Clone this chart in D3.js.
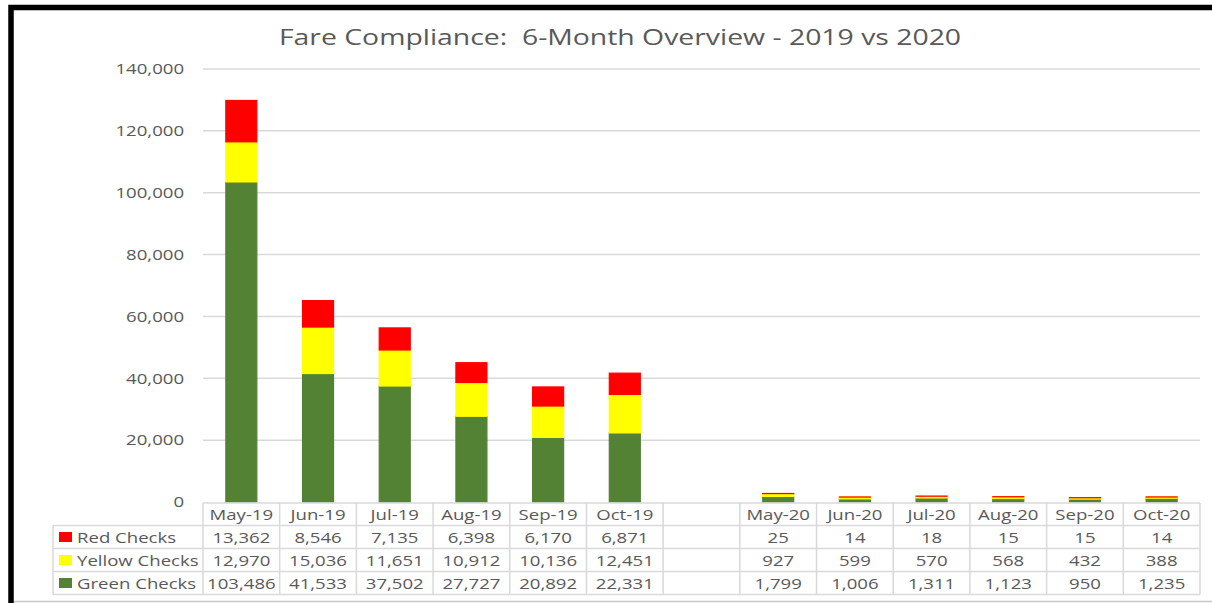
<!DOCTYPE html>
<html>
<head>
<meta charset="utf-8">
<script src="https://cdn.jsdelivr.net/npm/d3@7"></script>
<style>
  body { margin: 0; background: #fff; }
  svg { display: block; font-family: "Open Sans", sans-serif; }
</style>
</head>
<body>
<div id="chart"></div>
<script>
// data (blank column separates the two years)
var months = ['May-19', 'Jun-19', 'Jul-19', 'Aug-19', 'Sep-19', 'Oct-19', '',
  'May-20', 'Jun-20', 'Jul-20', 'Aug-20', 'Sep-20', 'Oct-20'];
var redChecks = [13362, 8546, 7135, 6398, 6170, 6871, null, 25, 14, 18, 15, 15, 14];
var yellowChecks = [12970, 15036, 11651, 10912, 10136, 12451, null, 927, 599, 570, 568, 432, 388];
var greenChecks = [103486, 41533, 37502, 27727, 20892, 22331, null, 1799, 1006, 1311, 1123, 950, 1235];
var yTicks = [0, 20000, 40000, 60000, 80000, 100000, 120000, 140000];

(function() {
  var series = [
    { key: 'red', name: 'Red Checks', color: '#ff0000', values: redChecks },
    { key: 'yellow', name: 'Yellow Checks', color: '#ffff00', values: yellowChecks },
    { key: 'green', name: 'Green Checks', color: '#548235', values: greenChecks }
  ];

  var width = 1212, height = 603;
  var textColor = '#595959', lineColor = '#d9d9d9';
  var plotLeft = 203, plotRight = 1200, plotTop = 69, plotBottom = 502;
  // the original picture is stretched sideways, so text is widened to match
  var sx = 1.24;

  var svg = d3.select('#chart').append('svg').attr('width', width).attr('height', height);

  function placeText(sel, x, y, k) {
    return sel.attr('transform', 'translate(' + x + ',' + y + ') scale(' + (k || sx) + ',1)');
  }

  // keys for band scales (the blank column needs a unique name)
  var keys = months.map(function(m, i) { return i + ':' + m; });

  var xCol = d3.scaleBand().domain(keys).range([plotLeft, plotRight]);
  var xBar = d3.scaleBand().domain(keys).range([plotLeft, plotRight]).paddingInner(0.58).paddingOuter(0.29);
  var y = d3.scaleLinear().domain([0, 140000]).range([plotBottom, plotTop]);

  // outer frame
  svg.append('path')
    .attr('d', 'M 11 603 L 11 7.5 L 1212 7.5')
    .attr('fill', 'none').attr('stroke', '#000').attr('stroke-width', 5.5);
  svg.append('line')
    .attr('x1', 14).attr('x2', 1212).attr('y1', 601.5).attr('y2', 601.5)
    .attr('stroke', '#c8c8c8').attr('stroke-width', 1.5);

  // title
  placeText(svg.append('text'), 620, 45, 1.29)
    .attr('text-anchor', 'middle')
    .attr('fill', textColor)
    .style('font-size', '22px')
    .style('white-space', 'pre')
    .text('Fare Compliance:  6-Month Overview - 2019 vs 2020');

  // gridlines
  svg.append('g').selectAll('line')
    .data(yTicks.slice(1))
    .join('line')
    .attr('x1', plotLeft).attr('x2', plotRight)
    .attr('y1', function(d) { return y(d); }).attr('y2', function(d) { return y(d); })
    .attr('stroke', lineColor).attr('stroke-width', 1.5);

  // y axis
  var yAxis = svg.append('g')
    .attr('transform', 'translate(' + plotLeft + ',0)')
    .call(d3.axisLeft(y).tickValues(yTicks).tickFormat(d3.format(',')).tickSize(0).tickPadding(15.3));
  yAxis.select('.domain').remove();
  yAxis.selectAll('text')
    .attr('fill', textColor)
    .attr('transform', 'scale(' + sx + ',1)')
    .style('font-size', '15px')
    .style('font-family', '"Open Sans", sans-serif');

  // stacked bars
  var rows = keys.map(function(k, i) {
    return { key: k, green: greenChecks[i] || 0, yellow: yellowChecks[i] || 0, red: redChecks[i] || 0 };
  });
  var stack = d3.stack().keys(['green', 'yellow', 'red'])(rows);
  var colorOf = { red: '#ff0000', yellow: '#ffff00', green: '#548235' };

  svg.append('g').selectAll('g')
    .data(stack)
    .join('g')
    .attr('fill', function(s) { return colorOf[s.key]; })
    .attr('stroke', function(s) { return colorOf[s.key]; })
    .attr('stroke-width', 1.2)
    .selectAll('rect')
    .data(function(s) { return s.filter(function(d) { return d[1] > d[0]; }); })
    .join('rect')
    .attr('x', function(d) { return xBar(d.data.key) + 0.6; })
    .attr('width', xBar.bandwidth() - 1.2)
    .attr('y', function(d) { return y(d[1]); })
    .attr('height', function(d) { return Math.max(0, y(d[0]) - y(d[1])); });

  // data table
  var tableLeft = 53;
  var rowEdges = [503, 525.5, 548.5, 571.5, 594.5];
  var table = svg.append('g');

  rowEdges.forEach(function(ry, i) {
    table.append('line')
      .attr('x1', i === 0 ? plotLeft : tableLeft).attr('x2', plotRight)
      .attr('y1', ry).attr('y2', ry)
      .attr('stroke', lineColor).attr('stroke-width', 1.5);
  });
  table.append('line')
    .attr('x1', tableLeft).attr('x2', tableLeft)
    .attr('y1', rowEdges[1]).attr('y2', rowEdges[4])
    .attr('stroke', lineColor).attr('stroke-width', 1.5);
  keys.concat(['end']).forEach(function(k) {
    var cx = k === 'end' ? plotRight : xCol(k);
    table.append('line')
      .attr('x1', cx).attr('x2', cx)
      .attr('y1', rowEdges[0]).attr('y2', rowEdges[4])
      .attr('stroke', lineColor).attr('stroke-width', 1.5);
  });

  // header row
  table.append('g').selectAll('text')
    .data(keys)
    .join('text')
    .each(function(k) {
      placeText(d3.select(this), xCol(k) + xCol.bandwidth() / 2, (rowEdges[0] + rowEdges[1]) / 2 + 5.5);
    })
    .attr('text-anchor', 'middle')
    .attr('fill', textColor)
    .style('font-size', '15px')
    .text(function(k, i) { return months[i]; });

  // series rows
  var fmt = d3.format(',');
  series.forEach(function(s, r) {
    var cy = (rowEdges[r + 1] + rowEdges[r + 2]) / 2;
    table.append('rect')
      .attr('x', 59).attr('y', cy - 5).attr('width', 13).attr('height', 10)
      .attr('fill', s.color);
    placeText(table.append('text'), 77, cy + 5.5)
      .attr('fill', textColor)
      .style('font-size', '15px')
      .text(s.name);
    table.append('g').selectAll('text')
      .data(s.values)
      .join('text')
      .each(function(v, i) {
        placeText(d3.select(this), xCol(keys[i]) + xCol.bandwidth() / 2, cy + 5.5);
      })
      .attr('text-anchor', 'middle')
      .attr('fill', textColor)
      .style('font-size', '15px')
      .text(function(v) { return v == null ? '' : fmt(v); });
  });
})();
</script>
</body>
</html>
